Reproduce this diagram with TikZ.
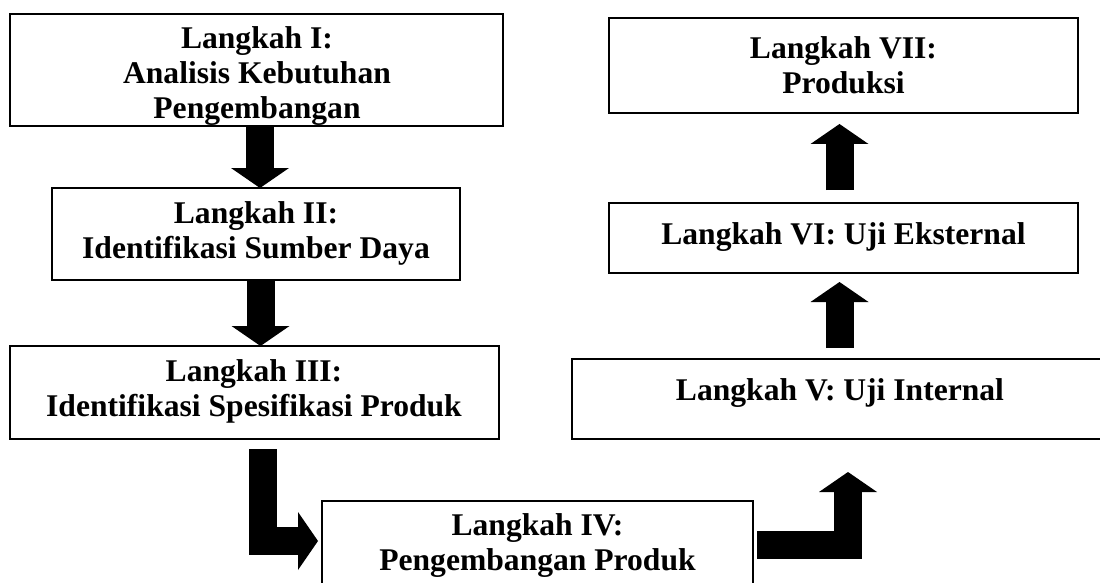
\documentclass[tikz,border=0pt]{standalone}
\usepackage{fontspec}
\setmainfont{Liberation Serif}
\usetikzlibrary{arrows.meta,calc}
\begin{document}
\begin{tikzpicture}[x=1pt,y=-1pt,
  stepbox/.style={draw=black, line width=1.6pt, rectangle, inner sep=0pt, outer sep=0pt},
  steptext/.style={anchor=north, inner sep=0pt, align=center, font=\fontsize{31.6}{35}\selectfont\bfseries},
  blk/.style={line width=28pt, line join=miter, -{Triangle[width=58pt,length=20pt,line width=0pt]}}]
\path[fill=white] (0,0) rectangle (1100,583);
\useasboundingbox (0,0) rectangle (1100,583);
% boxes
\node[stepbox, minimum width=493pt, minimum height=112pt] (I)   at (256.5,70)   {};
\node[stepbox, minimum width=408pt, minimum height=92pt]  (II)  at (256,234)    {};
\node[stepbox, minimum width=489pt, minimum height=93pt]  (III) at (254.5,392.5){};
\node[stepbox, minimum width=431pt, minimum height=99pt]  (IV)  at (537.5,550.5){};
\node[stepbox, minimum width=536pt, minimum height=80pt]  (V)   at (840,399)    {};
\node[stepbox, minimum width=469pt, minimum height=70pt]  (VI)  at (843.5,238)  {};
\node[stepbox, minimum width=469pt, minimum height=95pt]  (VII) at (843.5,65.5) {};
% texts
\node[steptext] (tI)   at (257,26.6)   {Langkah I:\\Analisis Kebutuhan\\Pengembangan};
\node[steptext] (tII)  at (256,201.6)  {Langkah II:\\Identifikasi Sumber Daya};
\node[steptext] (tIII) at (254,359.6)  {Langkah III:\\Identifikasi Spesifikasi Produk};
\node[steptext] (tIV)  at (537.5,513.6){Langkah IV:\\Pengembangan Produk};
\node[steptext] (tV)   at (840,378)    {Langkah V: Uji Internal};
\node[steptext] (tVI)  at (843.5,222)  {Langkah VI: Uji Eksternal};
\node[steptext] (tVII) at (843.5,36.6) {Langkah VII:\\Produksi};
% arrows
\coordinate (c1) at (260,0);
\coordinate (c2) at (260.5,0);
\coordinate (k3) at (262.5,541);
\coordinate (k4) at (848,545);
\coordinate (c5) at (839.5,0);
\draw[blk] (I.south -| c1) -- (II.north -| c1);
\draw[blk] (II.south -| c2) -- (III.north -| c2);
\draw[blk, shorten <=10pt, shorten >=4pt] (III.south -| k3) -- (k3) -- (IV.west |- k3);
\draw[blk, shorten <=4pt, shorten >=33pt] (IV.east |- k4) -- (k4) -- (V.south -| k4);
\draw[blk, shorten <=11pt, shorten >=9pt] (V.north -| c5) -- (VI.south -| c5);
\draw[blk, shorten <=13pt, shorten >=11pt] (VI.north -| c5) -- (VII.south -| c5);
\end{tikzpicture}
\end{document}
